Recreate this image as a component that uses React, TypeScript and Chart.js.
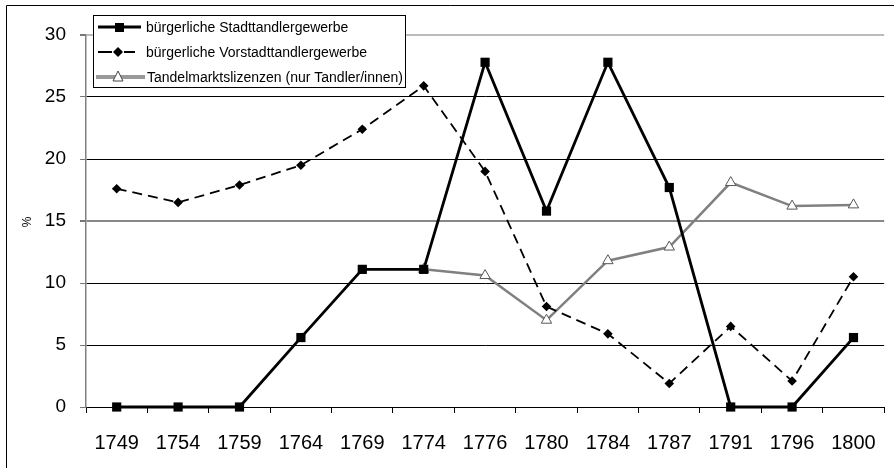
import React, { useEffect, useRef } from "react";
import Chart from "chart.js/auto";

const categories = ["1749", "1754", "1759", "1764", "1769", "1774", "1776", "1780", "1784", "1787", "1791", "1796", "1800"];
const stadtValues = [0, 0, 0, 5.6, 11.1, 11.1, 27.8, 15.8, 27.8, 17.7, 0, 0, 5.6];
const vorstadtValues = [17.6, 16.5, 17.9, 19.5, 22.4, 25.9, 19.0, 8.1, 5.9, 1.9, 6.5, 2.1, 10.5];
const tandelValues: (number | null)[] = [null, null, null, null, null, 11.1, 10.6, 7.0, 11.8, 12.9, 18.1, 16.2, 16.3];
const seriesLabels = [
  "bürgerliche Stadttandlergewerbe",
  "bürgerliche Vorstadttandlergewerbe",
  "Tandelmarktslizenzen (nur Tandler/innen)",
];
const yTicks = [0, 5, 10, 15, 20, 25, 30];
const yTitle = "%";

const FONT = "'Liberation Sans', Arial, sans-serif";

const decorPlugin = {
  id: "decor",
  afterDraw(chart: any) {
    const ctx = chart.ctx as CanvasRenderingContext2D;
    ctx.save();
    ctx.strokeStyle = "#000";
    ctx.lineWidth = 1;
    ctx.beginPath();
    ctx.moveTo(6.5, 470);
    ctx.lineTo(6.5, 5.5);
    ctx.lineTo(900, 5.5);
    ctx.stroke();

    ctx.save();
    ctx.translate(28, 222);
    ctx.rotate(-Math.PI / 2);
    ctx.fillStyle = "#000";
    ctx.font = `12px ${FONT}`;
    ctx.textAlign = "center";
    ctx.textBaseline = "middle";
    ctx.fillText(yTitle, 0, 0);
    ctx.restore();

    const bx = 93.5, by = 15.5, bw = 312, bh = 72;
    ctx.fillStyle = "#fff";
    ctx.fillRect(bx, by, bw, bh);
    ctx.strokeStyle = "#000";
    ctx.lineWidth = 1;
    ctx.strokeRect(bx, by, bw, bh);

    const rows = [27, 52, 77];
    ctx.strokeStyle = "#000";
    ctx.lineWidth = 3;
    ctx.beginPath();
    ctx.moveTo(98, rows[0]);
    ctx.lineTo(141, rows[0]);
    ctx.stroke();
    ctx.fillStyle = "#000";
    ctx.fillRect(115, rows[0] - 4, 9, 9);

    ctx.lineWidth = 2;
    ctx.beginPath();
    ctx.moveTo(98, rows[1]);
    ctx.lineTo(112, rows[1]);
    ctx.moveTo(124, rows[1]);
    ctx.lineTo(135, rows[1]);
    ctx.stroke();
    ctx.beginPath();
    ctx.moveTo(118, rows[1] - 5);
    ctx.lineTo(123, rows[1]);
    ctx.lineTo(118, rows[1] + 5);
    ctx.lineTo(113, rows[1]);
    ctx.closePath();
    ctx.fill();

    ctx.strokeStyle = "#999";
    ctx.lineWidth = 4;
    ctx.beginPath();
    ctx.moveTo(96, rows[2]);
    ctx.lineTo(145, rows[2]);
    ctx.stroke();
    ctx.fillStyle = "#fff";
    ctx.strokeStyle = "#444";
    ctx.lineWidth = 1;
    ctx.beginPath();
    ctx.moveTo(118, rows[2] - 6);
    ctx.lineTo(123, rows[2] + 4);
    ctx.lineTo(113, rows[2] + 4);
    ctx.closePath();
    ctx.fill();
    ctx.stroke();

    ctx.fillStyle = "#000";
    ctx.font = `14px ${FONT}`;
    ctx.textAlign = "left";
    ctx.textBaseline = "middle";
    ctx.fillText(seriesLabels[0], 146, rows[0] + 1);
    ctx.fillText(seriesLabels[1], 146, rows[1] + 1);
    ctx.fillText(seriesLabels[2], 147, rows[2] + 1);
    ctx.restore();
  },
};

export default function App() {
  const ref = useRef<HTMLCanvasElement | null>(null);
  useEffect(() => {
    if (!ref.current) return;
    const chart = new Chart(ref.current, {
      type: "line",
      data: {
        labels: categories,
        datasets: [
          {
            label: seriesLabels[2],
            data: tandelValues,
            borderColor: "#808080",
            borderWidth: 2.5,
            pointStyle: "triangle",
            pointRadius: 6,
            pointBackgroundColor: "#fff",
            pointBorderColor: "#555",
            pointBorderWidth: 1,
            tension: 0,
            clip: false,
            order: 3,
          },
          {
            label: seriesLabels[1],
            data: vorstadtValues,
            borderColor: "#000",
            borderWidth: 1.8,
            borderDash: [10, 6],
            pointStyle: "rectRot",
            pointRadius: 4.8,
            pointBackgroundColor: "#000",
            pointBorderColor: "#000",
            pointBorderWidth: 0,
            tension: 0,
            clip: false,
            order: 2,
          },
          {
            label: seriesLabels[0],
            data: stadtValues,
            borderColor: "#000",
            borderWidth: 2.8,
            pointStyle: "rect",
            pointRadius: 6.5,
            pointBackgroundColor: "#000",
            pointBorderColor: "#000",
            pointBorderWidth: 0,
            tension: 0,
            clip: false,
            order: 1,
          },
        ],
      },
      options: {
        animation: false,
        responsive: false,
        devicePixelRatio: 1,
        layout: { padding: { left: 0, right: 4, top: 35, bottom: 0 } },
        plugins: { legend: { display: false }, tooltip: { enabled: false } },
        scales: {
          x: {
            offset: true,
            grid: {
              offset: true,
              drawOnChartArea: false,
              drawTicks: true,
              tickLength: 6,
              tickColor: "#000",
            },
            border: { color: "#000", width: 1 },
            ticks: {
              color: "#000",
              font: { family: FONT, size: 20 },
              padding: 18,
              maxRotation: 0,
              autoSkip: false,
            },
            afterFit(scale: any) {
              scale.height = 61;
            },
          },
          y: {
            min: 0,
            max: 30,
            afterBuildTicks(scale: any) {
              scale.ticks = yTicks.map((v) => ({ value: v }));
            },
            grid: {
              color: (c: any) =>
                c.tick && c.tick.value === 30 ? "#bbb" : c.tick && c.tick.value === 15 ? "#888" : "#000",
              lineWidth: (c: any) => (c.tick && (c.tick.value === 30 || c.tick.value === 15) ? 2 : 1),
              tickColor: "#777",
              tickLength: 6,
            },
            border: { color: "#808080", width: 1.5 },
            ticks: {
              color: "#000",
              font: { family: FONT, size: 19 },
              padding: 14,
            },
            afterFit(scale: any) {
              scale.width = 86;
            },
          },
        },
      },
      plugins: [decorPlugin],
    });
    return () => chart.destroy();
  }, []);
  return (
    <div style={{ position: "fixed", left: 0, top: 0, width: 894, height: 468, background: "#fff" }}>
      <canvas ref={ref} width={894} height={468} style={{ width: 894, height: 468, display: "block" }} />
    </div>
  );
}
